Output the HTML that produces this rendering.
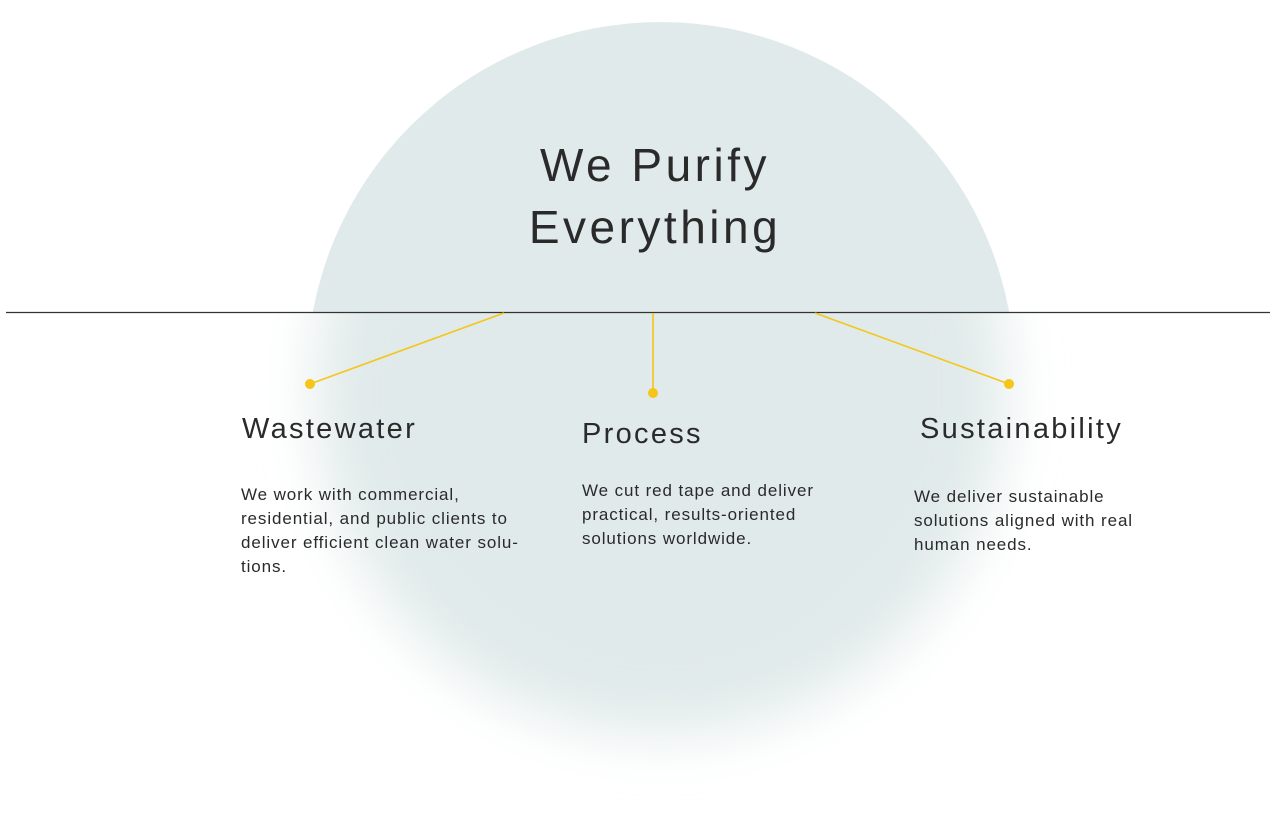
<!DOCTYPE html>
<html><head><style>
body{margin:0;width:1276px;height:824px;background:#fff;position:relative;overflow:hidden;font-family:"Liberation Sans",sans-serif;color:#1e1e1e}
.t{position:absolute;white-space:nowrap}
h1{position:absolute;margin:0;left:0;width:1310px;text-align:center;top:134px;font-weight:normal;font-size:46px;line-height:62px;letter-spacing:3.5px;color:#2a2a2a}
.h{font-size:29px;letter-spacing:2.3px;color:#2a2a2a}
.b{font-size:17px;line-height:24px;letter-spacing:0.9px;color:#2a2a2a}
</style></head><body>
<svg width="1276" height="824" style="position:absolute;left:0;top:0">
<defs>
<filter id="bl" x="-30%" y="-30%" width="160%" height="160%"><feGaussianBlur stdDeviation="28"/></filter>
<clipPath id="top"><rect x="0" y="0" width="1276" height="312"/></clipPath>
<clipPath id="bot"><rect x="0" y="312" width="1276" height="512"/></clipPath>
</defs>
<g clip-path="url(#bot)"><circle cx="661" cy="390" r="345" fill="#e1eaea" filter="url(#bl)"/></g>
<circle cx="661" cy="376" r="354" fill="#e1eaea" clip-path="url(#top)"/>
<line x1="6" y1="312.5" x2="1270" y2="312.5" stroke="#333" stroke-width="1.2"/>
<g stroke="#f5c518" stroke-width="1.6" fill="none">
<line x1="504" y1="313" x2="310" y2="384"/>
<line x1="653" y1="313" x2="653" y2="393"/>
<line x1="815" y1="313" x2="1009" y2="384"/>
</g>
<g fill="#f5c518"><circle cx="310" cy="384" r="5"/><circle cx="653" cy="393" r="5"/><circle cx="1009" cy="384" r="5"/></g>
</svg>
<h1>We Purify<br>Everything</h1>
<div class="t h" style="left:242px;top:413px">Wastewater</div>
<div class="t h" style="left:582px;top:418px">Process</div>
<div class="t h" style="left:920px;top:413px">Sustainability</div>
<div class="t b" style="left:241px;top:483px">We work with commercial,<br>residential, and public clients to<br>deliver efficient clean water solu-<br>tions.</div>
<div class="t b" style="left:582px;top:479px">We cut red tape and deliver<br>practical, results-oriented<br>solutions worldwide.</div>
<div class="t b" style="left:914px;top:485px">We deliver sustainable<br>solutions aligned with real<br>human needs.</div>
</body></html>
